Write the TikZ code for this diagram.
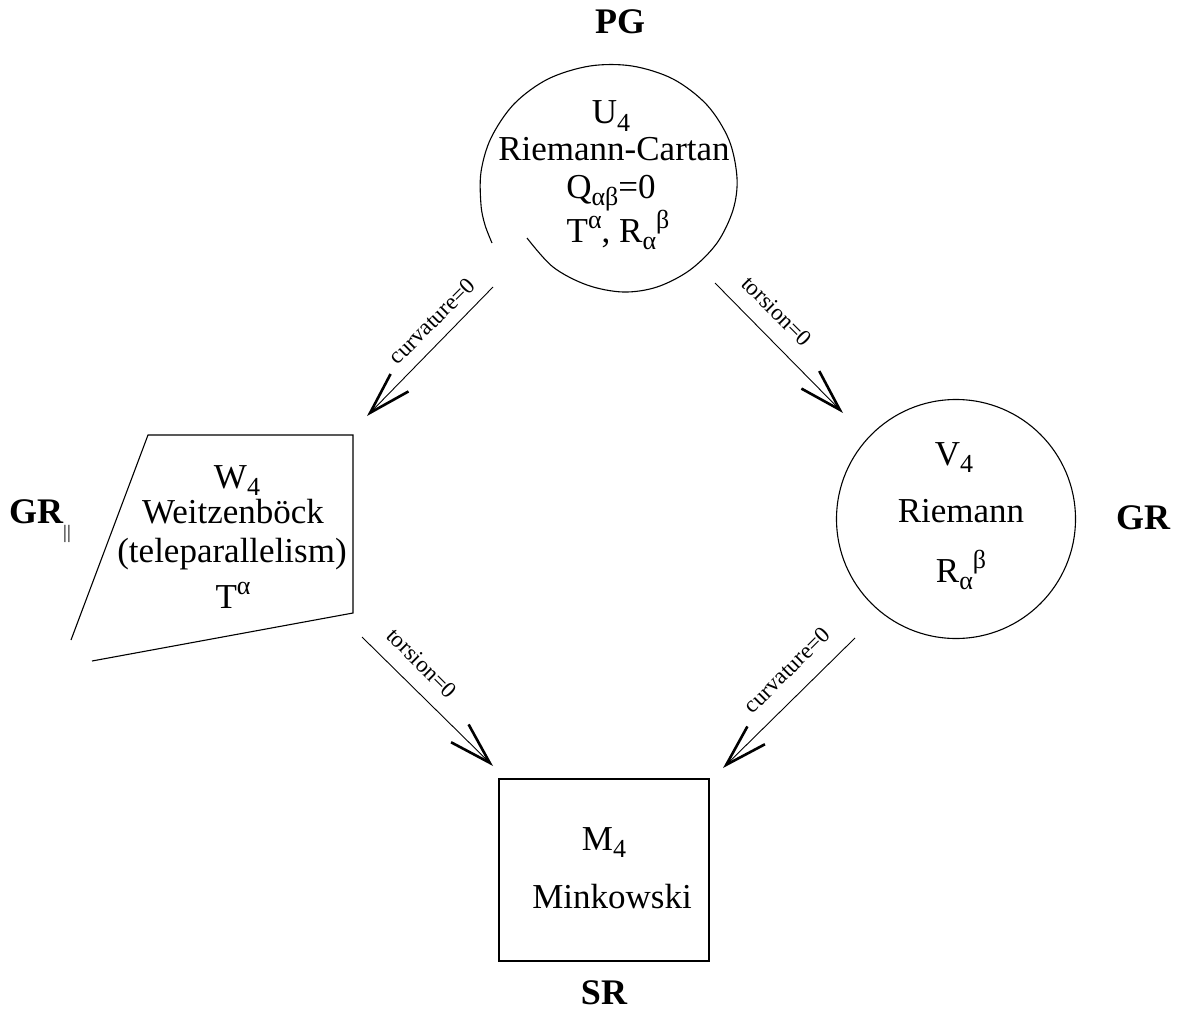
\documentclass[tikz,border=0pt]{standalone}
\usepackage{fontspec}
\setmainfont{Liberation Serif}
\usetikzlibrary{arrows.meta}
\newcommand\lowr[1]{\raisebox{-0.22em}{\fontsize{26}{26}\selectfont #1}}
\newcommand\highr[1]{\raisebox{0.40em}{\fontsize{26}{26}\selectfont #1}}
\begin{document}
\begin{tikzpicture}[x=1pt,y=-1pt,
  txt/.style={font=\fontsize{35}{40}\selectfont, inner sep=0pt, anchor=base},
  lab/.style={font=\fontsize{36}{40}\selectfont\bfseries, inner sep=0pt, anchor=base},
  small/.style={font=\fontsize{23}{25}\selectfont, inner sep=0pt},
  outline/.style={line width=1.1pt, line join=miter},
  arr/.style={line width=0.9pt, -{Straight Barb[length=42pt,width=25pt,line width=2.6pt]}}]
\useasboundingbox (0,0) rectangle (1177,1014);

% ---- PG / U4 ----
\node[lab] (pg) at (620,34) {PG};
\draw[outline] plot[smooth, tension=0.55] coordinates {
 (527,238) (553,267) (587,285) (623,292) (657,287) (690,270) (717,243)
 (733,210) (737,178) (729,140) (707,105) (673,79) (632,66) (590,66)
 (548,79) (514,104) (491,138) (481,172) (481,205) (485,225) (492,243)};
\node[txt] (u1) at (611,124) {U\lowr{4}};
\node[txt] (u2) at (614,160) {Riemann-Cartan};
\node[txt] (u3) at (611,198) {Q\lowr{αβ}=0};
\node[txt] (u4) at (618,242) {T\highr{α}, R\lowr{α}\highr{β}};

% ---- W4 ----
\coordinate (w1) at (71,640);
\coordinate (w2) at (148,435);
\coordinate (w3) at (353,435);
\coordinate (w4) at (353,613);
\coordinate (w5) at (92,661);
\draw[outline] (w1) -- (w2) -- (w3) -- (w4) -- (w5);
\node[txt] (t1) at (237,488) {W\lowr{4}};
\node[txt] (t2) at (233,523) {Weitzenböck};
\node[txt] (t3) at (232,562) {(teleparallelism)};
\node[txt] (t4) at (233,608) {T\highr{α}};
\node[lab, anchor=base west] (grp) at (9,523) {GR\raisebox{-15pt}{\fontsize{19}{19}\selectfont\mdseries ||}};

% ---- V4 ----
\node[circle, draw, line width=1.1pt, minimum size=239pt, inner sep=0pt] (v4) at (956,519) {};
\node[txt] (v1) at (954,465) {V\lowr{4}};
\node[txt] (v2) at (961,522) {Riemann};
\node[txt] (v3) at (961,582) {R\lowr{α}\highr{β}};
\node[lab] (gr) at (1143,529) {GR};

% ---- M4 ----
\node[draw, line width=1.1pt, minimum width=210pt, minimum height=182pt, inner sep=0pt] (m4) at (604,870) {};
\node[txt] (m1) at (604,850) {M\lowr{4}};
\node[txt] (m2) at (612,908) {Minkowski};
\node[lab] (sr) at (604,1004) {SR};

% ---- arrows ----
\coordinate (a1s) at (493,287); \coordinate (a1e) at (367,416);
\coordinate (a2s) at (715,283); \coordinate (a2e) at (843,413);
\coordinate (a3s) at (362,637); \coordinate (a3e) at (493,766);
\coordinate (a4s) at (855,638); \coordinate (a4e) at (723,768);
\draw[arr] (a1s) -- (a1e);
\draw[arr] (a2s) -- (a2e);
\draw[arr] (a3s) -- (a3e);
\draw[arr] (a4s) -- (a4e);
\node[small, rotate=45]  (l1) at (432,321) {curvature=0};
\node[small, rotate=-45] (l2) at (777,311) {torsion=0};
\node[small, rotate=-45] (l3) at (422,663) {torsion=0};
\node[small, rotate=45]  (l4) at (787,670) {curvature=0};
\end{tikzpicture}
\end{document}
